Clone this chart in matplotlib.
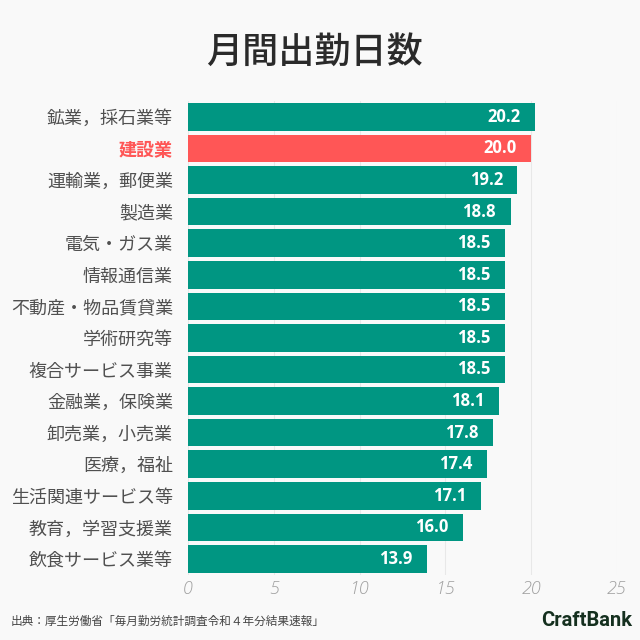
import matplotlib
matplotlib.use("Agg")
import matplotlib.pyplot as plt

plt.rcParams['font.family'] = ['Noto Sans CJK JP', 'DejaVu Sans']

categories = ["鉱業，採石業等", "建設業", "運輸業，郵便業", "製造業", "電気・ガス業",
              "情報通信業", "不動産・物品賃貸業", "学術研究等", "複合サービス事業",
              "金融業，保険業", "卸売業，小売業", "医療，福祉", "生活関連サービス等",
              "教育，学習支援業", "飲食サービス業等"]
values = [20.2, 20.0, 19.2, 18.8, 18.5, 18.5, 18.5, 18.5, 18.5, 18.1, 17.8, 17.4, 17.1, 16.0, 13.9]
highlight = "建設業"
ticks = [0, 5, 10, 15, 20, 25]

bg = "#f9f9f9"
teal = "#009682"
red = "#ff5656"

fig = plt.figure(figsize=(6.4, 6.4), dpi=100, facecolor=bg)
ax = fig.add_axes([0.294, 0.102, 0.670, 0.740], facecolor=bg)

n = len(categories)
ypos = list(range(n))
colors = [red if c == highlight else teal for c in categories]
ax.barh(ypos, values, height=0.87, color=colors, zorder=2)
ax.set_ylim(n - 0.5, -0.5)
ax.set_xlim(0, 25.0)
ax.set_xticks(ticks)
ax.set_xticklabels([str(t) for t in ticks], fontstyle='italic', fontweight='light',
                   color='#a0a0a0', fontsize=13, family=['Open Sans', 'DejaVu Sans'])
ax.set_yticks(ypos)
ax.set_yticklabels(categories, fontsize=13)
for lbl, c in zip(ax.get_yticklabels(), categories):
    if c == highlight:
        lbl.set_color(red)
        lbl.set_fontweight('bold')
    else:
        lbl.set_color('#505050')
ax.tick_params(length=0, pad=11)
ax.tick_params(axis='x', pad=4)
for s in ax.spines.values():
    s.set_visible(False)
ax.grid(axis='x', color='#e8e8e8', linewidth=0.8, zorder=0)

for y, v in zip(ypos, values):
    ax.text(v - 0.85, y, f"{v:.1f}", ha='right', va='center', color='white',
            fontsize=12, fontweight='bold', zorder=3, family=['Open Sans', 'DejaVu Sans'])

fig.text(0.492, 0.917, "月間出勤日数", ha='center', va='center', fontsize=26,
         fontweight='medium', color='#2a2a2a')
fig.text(0.016, 0.029, "出典：厚生労働省「毎月勤労統計調査令和４年分結果速報」", ha='left', va='center',
         fontsize=8.4, color='#444444')
fig.text(0.988, 0.031, "CraftBank", ha='right', va='center', fontsize=14.5,
         fontweight='bold', color='#15301f', family=['Roboto', 'DejaVu Sans'])

fig.savefig("out.png", dpi=100, facecolor=bg)
